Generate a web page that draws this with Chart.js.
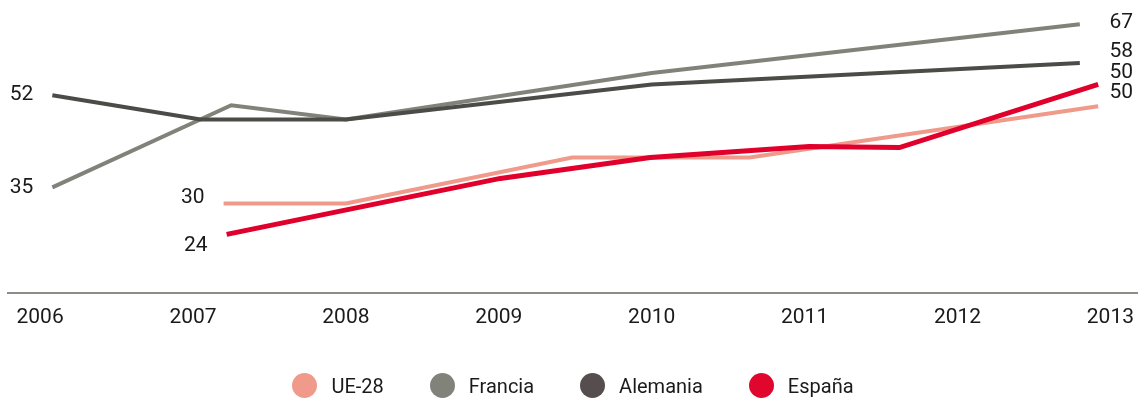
<!DOCTYPE html>
<html lang="es">
<head>
<meta charset="utf-8">
<title>UE-28, Francia, Alemania, España</title>
<script src="https://cdn.jsdelivr.net/npm/chart.js@4.4.1/dist/chart.umd.min.js"></script>
<style>
  html, body { margin: 0; padding: 0; background: #fff; }
  #wrap { position: relative; width: 1138px; height: 399px; }
  #chart { position: absolute; left: 0; top: 0; }
  #legend {
    position: absolute; left: 0; top: 373px; width: 1138px; height: 25px;
    display: flex; justify-content: center; align-items: center; gap: 46px;
    font-family: Roboto, "Liberation Sans", sans-serif; font-size: 20px; color: #1a1a1a;
    padding-left: 8px; box-sizing: border-box;
  }
  #legend .item { display: flex; align-items: center; gap: 14px; }
  #legend .dot { width: 25px; height: 25px; border-radius: 50%; display: inline-block; }
</style>
</head>
<body>
<div id="wrap">
  <canvas id="chart" width="1138" height="399"></canvas>
  <div id="legend"></div>
</div>
<script>
document.addEventListener("DOMContentLoaded", () => {

  /* =========================
     DATA
  ========================= */
  const years = [2006, 2007, 2008, 2009, 2010, 2011, 2012, 2013];
  const seriesNames = ['UE-28', 'Francia', 'Alemania', 'España'];

  // irregular x positions (fractional years)
  const ueX  = [2007.20, 2008.00, 2009.48, 2010.64, 2012.92];
  const ueY  = [28.8, 28.8, 38.5, 38.5, 49.3];
  const frX  = [2006.08, 2007.25, 2008.00, 2010.00, 2012.80];
  const frY  = [32.2, 49.5, 46.5, 56.3, 66.6];
  const deX  = [2006.08, 2007.05, 2008.00, 2010.00, 2012.80];
  const deY  = [51.6, 46.5, 46.5, 53.9, 58.4];
  const esX  = [2007.22, 2009.01, 2009.99, 2011.03, 2011.62, 2012.92];
  const esY  = [22.3, 34.1, 38.5, 40.8, 40.6, 53.9];

  // printed labels at the start and end of each line
  const startLabels = ['30', '35', '52', '24'];
  const endLabels   = ['50', '67', '58', '50'];

  /* =========================
     STYLE
  ========================= */
  const lineColors   = ['#f09a8b', '#81837b', '#4a4c47', '#e0002b'];
  const legendColors = ['#f09a8b', '#81837b', '#564e4e', '#e0062e'];
  const lineWidths   = [4, 4, 4, 5];
  const drawOrder    = [3, 2, 1, 0];
  // label nudges (px) so stacked numbers don't collide
  const startDy = [-5.5, 0, -1, 11.5];
  const endDy   = [-13.5, -1.5, -11, -11.5];
  const textColor = '#1a1a1a';
  const font = 'Roboto, "Liberation Sans", sans-serif';

  const xs = [ueX, frX, deX, esX];
  const ys = [ueY, frY, deY, esY];

  const toPoints = (xArr, yArr) => xArr.map((x, i) => ({ x, y: yArr[i] }));

  /* =========================
     LINE END LABELS
  ========================= */
  const endLabelPlugin = {
    id: 'endLabels',
    afterDatasetsDraw(chart) {
      const ctx = chart.ctx;
      const xScale = chart.scales.x;
      ctx.save();
      ctx.font = '21px ' + font;
      ctx.fillStyle = textColor;
      ctx.textBaseline = 'middle';
      chart.data.datasets.forEach((ds, i) => {
        const pts = chart.getDatasetMeta(i).data;
        const first = pts[0];
        const last = pts[pts.length - 1];
        ctx.textAlign = 'right';
        ctx.fillText(startLabels[i], first.x - 19, first.y + startDy[i]);
        ctx.textAlign = 'left';
        ctx.fillText(endLabels[i], xScale.getPixelForValue(2013) - 1, last.y + endDy[i]);
      });
      ctx.restore();
    }
  };

  /* =========================
     CHART
  ========================= */
  new Chart(document.getElementById('chart'), {
    type: 'line',
    data: {
      datasets: seriesNames.map((name, i) => ({
        label: name,
        data: toPoints(xs[i], ys[i]),
        borderColor: lineColors[i],
        backgroundColor: lineColors[i],
        borderWidth: lineWidths[i],
        borderJoinStyle: 'miter',
        pointRadius: 0,
        tension: 0,
        order: drawOrder[i]
      }))
    },
    options: {
      responsive: false,
      animation: false,
      devicePixelRatio: 1,
      layout: { padding: { top: 8, left: 8, right: 0, bottom: 65 } },
      plugins: { legend: { display: false }, tooltip: { enabled: false } },
      scales: {
        x: {
          type: 'linear',
          min: 2005.79,
          max: 2013.18,
          grid: { display: false },
          border: { display: true, color: '#8c8e86', width: 2 },
          afterBuildTicks: s => { s.ticks = years.map(v => ({ value: v })); },
          ticks: {
            padding: 4,
            maxRotation: 0,
            autoSkip: false,
            color: textColor,
            font: { family: font, size: 21 },
            callback: v => String(v)
          }
        },
        y: {
          display: false,
          min: 10,
          max: 70
        }
      }
    },
    plugins: [endLabelPlugin]
  });

  /* =========================
     LEGEND
  ========================= */
  const legend = document.getElementById('legend');
  seriesNames.forEach((name, i) => {
    const item = document.createElement('span');
    item.className = 'item';
    item.innerHTML = '<span class="dot" style="background:' + legendColors[i] + '"></span><span>' + name + '</span>';
    legend.appendChild(item);
  });

});
</script>
</body>
</html>
